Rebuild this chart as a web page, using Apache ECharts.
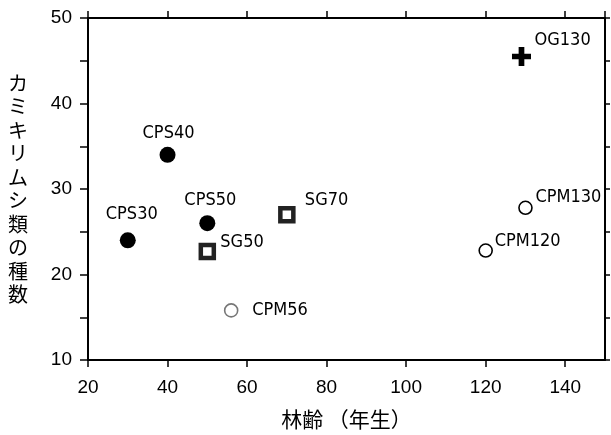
<!DOCTYPE html>
<html>
<head>
<meta charset="utf-8">
<script src="https://cdn.jsdelivr.net/npm/echarts@6/dist/echarts.min.js"></script>
<style>
  html, body { margin: 0; padding: 0; background: #fff; }
  #chart { width: 611px; height: 435px; }
</style>
</head>
<body>
<div id="chart"></div>
<script>
// data
const cpsNames = ['CPS30', 'CPS40', 'CPS50'];
const cpsAge = [30, 40, 50];
const cpsSpecies = [24, 34, 26];

const sgNames = ['SG50', 'SG70'];
const sgAge = [50, 70];
const sgSpecies = [22.7, 27];

const cpmNames = ['CPM56', 'CPM120', 'CPM130'];
const cpmAge = [56, 120, 130];
const cpmSpecies = [15.8, 22.8, 27.8];

const ogNames = ['OG130'];
const ogAge = [129];
const ogSpecies = [45.5];

const xMin = 20, xMax = 150, xStep = 20;
const yMin = 10, yMax = 50, yStep = 5;

const xTitle = '林齢 （年生）';
const yTitle = 'カミキリムシ類の種数';

// label placement around each marker (dx, dy from marker centre)
const labelPlace = {
    CPS30: { align: 'center', dx: 4, dy: -26 },
    CPS40: { align: 'center', dx: 1, dy: -21 },
    CPS50: { align: 'center', dx: 3, dy: -23 },
    SG50: { align: 'left', dx: 13, dy: -9 },
    SG70: { align: 'left', dx: 18, dy: -14 },
    CPM56: { align: 'left', dx: 21, dy: 0 },
    CPM120: { align: 'left', dx: 9, dy: -9 },
    CPM130: { align: 'left', dx: 10, dy: -10 },
    OG130: { align: 'left', dx: 13, dy: -16 }
};

const narrowFont = "'DejaVu Sans Condensed', 'Liberation Sans Narrow', sans-serif";
const tickFont = "'Liberation Sans', Arial, sans-serif";
const jpFont = "'Noto Sans CJK JP', sans-serif";

function points(names, xs, ys, extra) {
    return names.map(function (n, i) {
        const p = labelPlace[n];
        const item = {
            name: n,
            value: [xs[i], ys[i]],
            label: {
                show: true,
                formatter: '{b}',
                position: ['50%', '50%'],
                align: p.align,
                verticalAlign: 'middle',
                offset: [p.dx, p.dy],
                color: '#000',
                fontFamily: narrowFont,
                fontSize: 18
            }
        };
        if (extra && extra[n]) item.itemStyle = extra[n];
        return item;
    });
}

const axisLine = { show: true, lineStyle: { color: '#000', width: 2 } };

const chart = echarts.init(document.getElementById('chart'));
chart.setOption({
    animation: false,
    backgroundColor: '#fff',
    grid: { left: 88, right: 6, top: 18, bottom: 73 },
    xAxis: [{
        type: 'value',
        min: xMin, max: xMax, interval: xStep,
        position: 'bottom',
        name: xTitle,
        nameLocation: 'middle',
        nameGap: 49,
        nameTextStyle: { fontFamily: jpFont, fontSize: 21, color: '#000' },
        axisLine: axisLine,
        axisTick: { show: true, length: 7, lineStyle: { color: '#000', width: 1.5 } },
        axisLabel: {
            margin: 18,
            color: '#000', fontFamily: tickFont, fontSize: 19,
            showMaxLabel: false,
            formatter: function (v) { return v === xMax ? '' : v; }
        },
        splitLine: { show: false }
    }, {
        type: 'value',
        min: xMin, max: xMax, interval: xStep,
        position: 'top',
        axisLine: axisLine,
        axisTick: { show: true, length: 7, lineStyle: { color: '#000', width: 1.5 } },
        axisLabel: { show: false },
        splitLine: { show: false }
    }],
    yAxis: [{
        type: 'value',
        min: yMin, max: yMax, interval: yStep,
        position: 'left',
        name: yTitle.split('').join('\n'),
        nameLocation: 'middle',
        nameRotate: 0,
        nameGap: 60,
        nameTextStyle: {
            fontFamily: jpFont, fontSize: 20, lineHeight: 23.5, color: '#000',
            padding: [38, 0, 0, 0]
        },
        axisLine: axisLine,
        axisTick: { show: true, length: 8, lineStyle: { color: '#000', width: 1.5 } },
        axisLabel: {
            margin: 16,
            color: '#000', fontFamily: tickFont, fontSize: 19,
            formatter: function (v) { return v % 10 === 0 ? v : ''; }
        },
        splitLine: { show: false }
    }, {
        type: 'value',
        min: yMin, max: yMax, interval: yStep,
        position: 'right',
        axisLine: axisLine,
        axisTick: { show: true, length: 5, lineStyle: { color: '#000', width: 1.5 } },
        axisLabel: { show: false },
        splitLine: { show: false }
    }],
    series: [{
        name: 'CPS',
        type: 'scatter',
        symbol: 'circle',
        symbolSize: 16,
        itemStyle: { color: '#000', opacity: 1 },
        data: points(cpsNames, cpsAge, cpsSpecies)
    }, {
        name: 'SG',
        type: 'scatter',
        symbol: 'rect',
        symbolSize: 13,
        itemStyle: { color: '#fff', borderColor: '#222', borderWidth: 4.5, opacity: 1 },
        data: points(sgNames, sgAge, sgSpecies)
    }, {
        name: 'CPM',
        type: 'scatter',
        symbol: 'circle',
        symbolSize: 13,
        itemStyle: { color: '#fff', borderColor: '#000', borderWidth: 1.6, opacity: 1 },
        data: points(cpmNames, cpmAge, cpmSpecies, {
            CPM56: { color: '#fff', borderColor: '#777', borderWidth: 1.6, opacity: 1 }
        })
    }, {
        name: 'OG',
        type: 'scatter',
        symbol: 'path://M7,0H13V7H20V13H13V20H7V13H0V7H7Z',
        symbolSize: 19,
        itemStyle: { color: '#000', opacity: 1 },
        data: points(ogNames, ogAge, ogSpecies)
    }]
});
</script>
</body>
</html>
